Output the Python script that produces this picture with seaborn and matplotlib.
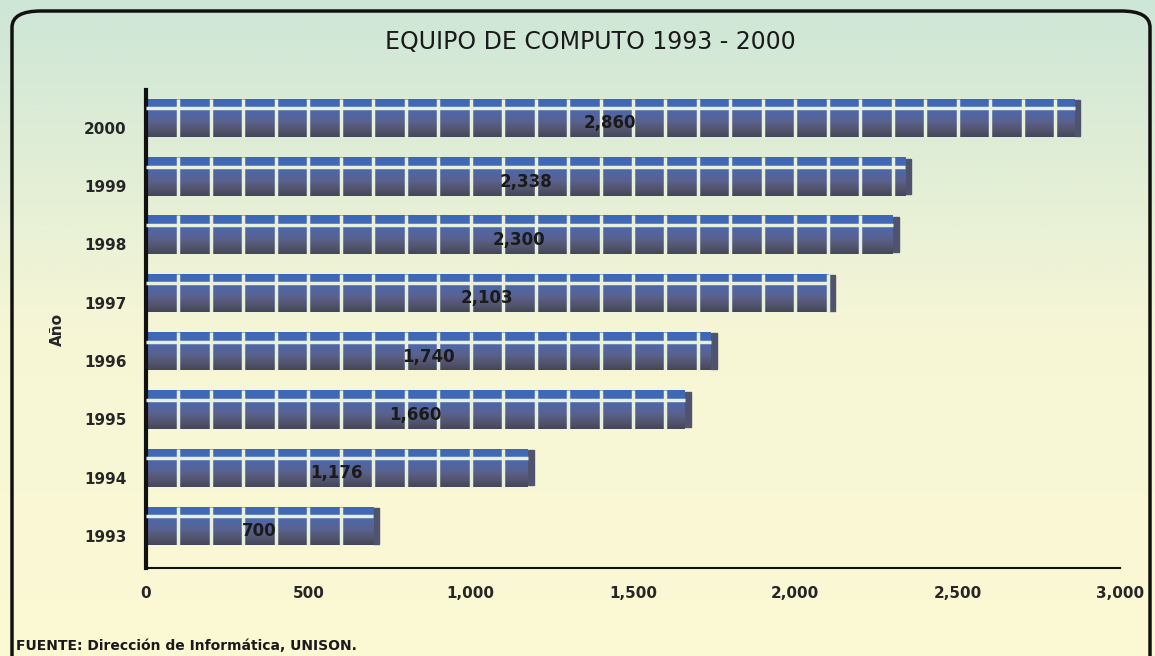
import numpy as np
import matplotlib
matplotlib.use("Agg")
import matplotlib.pyplot as plt
import seaborn as sns
from matplotlib.colors import LinearSegmentedColormap
from matplotlib.patches import FancyBboxPatch, Rectangle

years = ["2000", "1999", "1998", "1997", "1996", "1995", "1994", "1993"]
equipos = [2860, 2338, 2300, 2103, 1740, 1660, 1176, 700]
x_ticks = [0, 500, 1000, 1500, 2000, 2500, 3000]
x_labels = ["0", "500", "1,000", "1,500", "2,000", "2,500", "3,000"]

sns.set_style("white")
plt.rcParams["font.family"] = ["DejaVu Sans"]

fig = plt.figure(figsize=(11.55, 6.56), dpi=100)

# fondo degradado verde -> amarillo
bg = fig.add_axes([0, 0, 1, 1], zorder=-10)
bg_cmap = LinearSegmentedColormap.from_list("bg", ["#fcf9d4", "#f6f6d6", "#cde6d6"])
bg.imshow(np.linspace(0, 1, 256).reshape(-1, 1), aspect="auto", cmap=bg_cmap,
          origin="lower", extent=[0, 1, 0, 1])
bg.set_axis_off()
frame = FancyBboxPatch((12 / 1155, -0.05), 1138 / 1155, 1 - 11 / 656 + 0.05,
                       boxstyle="round,pad=0,rounding_size=0.025",
                       transform=fig.transFigure, fill=False, ec="#111111", lw=2.5)
bg.add_patch(frame)

ax = fig.add_axes([146 / 1155, 1 - 568 / 656, (1120 - 146) / 1155, (568 - 90) / 656])
ax.set_facecolor("none")

sns.barplot(x=equipos, y=years, orient="h", ax=ax, width=0.66,
            color="#4a66a8", saturation=1, zorder=2)

bar_cmap = LinearSegmentedColormap.from_list(
    "bar", ["#3b69ba", "#4368b4", "#5066a4", "#5a6290", "#53566f", "#44465a"])
grad = np.linspace(0, 1, 128).reshape(-1, 1)
light = "#e6f0dc"
for p, v in zip(ax.patches, equipos):
    x0, y0 = p.get_x(), p.get_y()
    w, h = p.get_width(), p.get_height()
    p.set_facecolor("none")
    p.set_edgecolor("none")
    # cara lateral oscura
    side = Rectangle((x0 + w, y0 + h * 0.04), 18, h * 0.92, color="#50536e", zorder=2)
    ax.add_patch(side)
    im = ax.imshow(grad, aspect="auto", cmap=bar_cmap, origin="upper",
                   extent=[x0, x0 + w, y0 + h, y0], zorder=2)
    im.set_clip_path(p)
    # franja clara horizontal y divisiones verticales
    ax.hlines(y0 + h * 0.25, x0, x0 + w, color=light, lw=2.5, zorder=3)
    ax.vlines(np.arange(100, v, 100), y0, y0 + h, color=light, lw=2.5, zorder=3)
    ax.text(v / 2, y0 + h * 0.64, f"{v:,}", ha="center", va="center",
            fontsize=12, fontweight="bold", color="#1a1a1a", zorder=5)

ax.set_xlim(0, 3000)
ax.set_ylim(7.72, -0.38)
ax.set_xticks(x_ticks)
ax.set_xticklabels(x_labels, fontsize=11, fontweight="bold")
ax.set_yticks(np.arange(len(years)) + 0.17)
ax.set_yticklabels(years, fontsize=11, fontweight="bold")
ax.set_yticks(np.arange(-0.5, len(years) - 1, 1) + 0.02, minor=True)
ax.tick_params(axis="y", which="major", length=0, pad=14)
ax.tick_params(axis="y", which="minor", length=7, width=2.5, color="#111111")
ax.tick_params(axis="x", length=5, width=1.5, color="#111111", pad=8)
ax.set_ylabel("Año", fontsize=11, fontweight="bold", labelpad=14)
ax.set_xlabel("")
for s in ["top", "right"]:
    ax.spines[s].set_visible(False)
ax.spines["left"].set_linewidth(3)
ax.spines["bottom"].set_linewidth(1.5)
ax.spines["left"].set_color("#111111")
ax.spines["bottom"].set_color("#111111")

fig.text(590 / 1155, 1 - 42 / 656, "EQUIPO DE COMPUTO 1993 - 2000",
         ha="center", va="center", fontsize=17, color="#1a1a1a")
fig.text(16 / 1155, 1 - 646 / 656, "FUENTE: Dirección de Informática, UNISON.",
         ha="left", va="center", fontsize=10, fontweight="bold", color="#1a1a1a")

fig.savefig("out.png", dpi=100)
